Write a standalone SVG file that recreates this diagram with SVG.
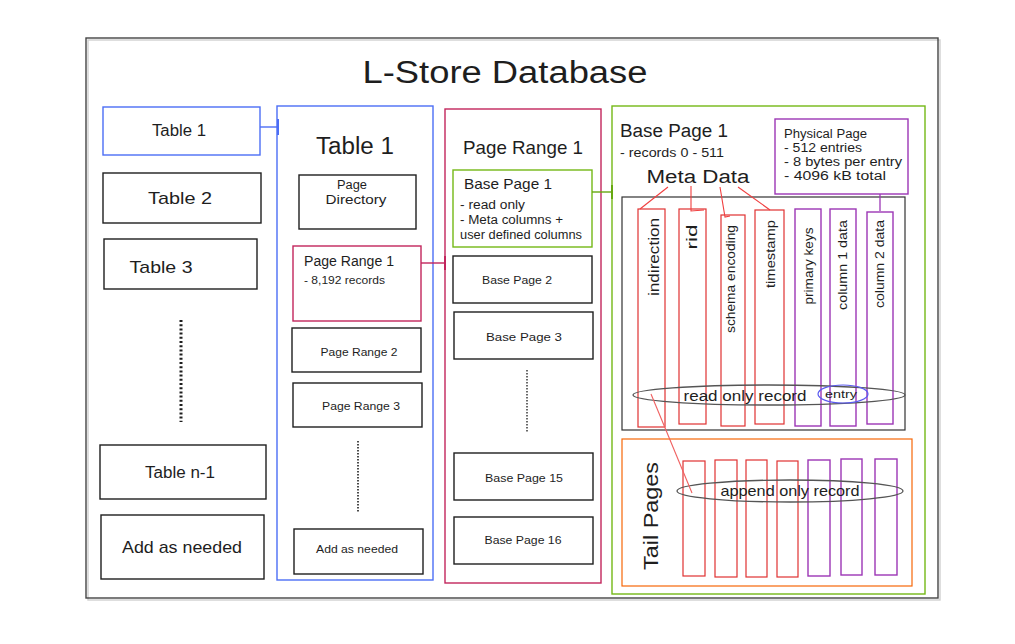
<svg xmlns="http://www.w3.org/2000/svg" width="1015" height="644" viewBox="0 0 1015 644">
<style>
text{font-family:"Liberation Sans",Arial,sans-serif;fill:#1e1e1e}
.box{fill:none;stroke:#1e1e1e;stroke-width:1.4}
.blue{fill:none;stroke:#4c6ef5;stroke-width:1.4}
.pink{fill:none;stroke:#c2255c;stroke-width:1.4}
.green{fill:none;stroke:#74b816;stroke-width:1.4}
.purple{fill:none;stroke:#9c36b5;stroke-width:1.4}
.red{fill:none;stroke:#e03131;stroke-width:1.2}
.orange{fill:none;stroke:#f76707;stroke-width:1.2}
.grey{fill:none;stroke:#555;stroke-width:1.3}
.c{text-anchor:middle}
.rot{text-anchor:middle;dominant-baseline:central}
</style>
<rect width="1015" height="644" fill="#ffffff"/>
<rect x="88" y="40" width="852" height="560" fill="none" stroke="#d0d0d0" stroke-width="1.4"/>
<rect x="86" y="38" width="852" height="560" fill="none" stroke="#444" stroke-width="1.4"/>
<text x="505" y="83" class="c" font-size="31" textLength="285" lengthAdjust="spacingAndGlyphs">L-Store Database</text>

<g id="tables-list">
<g id="table1-item"><rect x="103" y="107" width="157" height="48" class="blue"/><text x="179" y="136" class="c" font-size="16" textLength="54" lengthAdjust="spacingAndGlyphs">Table 1</text></g>
<g id="table2-item"><rect x="103" y="173" width="158" height="50" class="box"/><text x="180" y="204" class="c" font-size="17" textLength="64" lengthAdjust="spacingAndGlyphs">Table 2</text></g>
<g id="table3-item"><rect x="104" y="239" width="153" height="50" class="box"/><text x="161" y="273" class="c" font-size="17" textLength="63" lengthAdjust="spacingAndGlyphs">Table 3</text></g>
<line x1="181" y1="320" x2="181" y2="422" stroke="#1e1e1e" stroke-width="3" stroke-dasharray="2 2.2"/>
<g id="tablen1-item"><rect x="100" y="445" width="166" height="54" class="box"/><text x="180" y="478" class="c" font-size="16" textLength="70" lengthAdjust="spacingAndGlyphs">Table n-1</text></g>
<g id="add-table"><rect x="101" y="515" width="163" height="64" class="box"/><text x="182" y="553" class="c" font-size="17" textLength="120" lengthAdjust="spacingAndGlyphs">Add as needed</text></g>
</g>

<g id="table1-detail">
<rect x="277" y="106" width="156" height="474" class="blue"/>
<text x="355" y="154" class="c" font-size="23" textLength="78" lengthAdjust="spacingAndGlyphs">Table 1</text>
<g id="page-directory"><rect x="299" y="175" width="117" height="54" class="box"/><text x="352" y="189" class="c" font-size="12.5" textLength="30" lengthAdjust="spacingAndGlyphs">Page</text><text x="356" y="204" class="c" font-size="12.5" textLength="61" lengthAdjust="spacingAndGlyphs">Directory</text></g>
<g id="page-range1-item"><rect x="293" y="246" width="128" height="75" class="pink"/><text x="304" y="266" font-size="14" textLength="90" lengthAdjust="spacingAndGlyphs">Page Range 1</text><text x="304" y="284" font-size="10.5" textLength="81" lengthAdjust="spacingAndGlyphs">- 8,192 records</text></g>
<g id="page-range2-item"><rect x="292" y="328" width="129" height="44" class="box"/><text x="359" y="356" class="c" font-size="11" textLength="77" lengthAdjust="spacingAndGlyphs">Page Range 2</text></g>
<g id="page-range3-item"><rect x="293" y="383" width="129" height="44" class="box"/><text x="361" y="410" class="c" font-size="11" textLength="78" lengthAdjust="spacingAndGlyphs">Page Range 3</text></g>
<line x1="358" y1="441" x2="358" y2="512" stroke="#1e1e1e" stroke-width="1.6" stroke-dasharray="1.5 1.5"/>
<g id="add-range"><rect x="294" y="529" width="129" height="45" class="box"/><text x="357" y="553" class="c" font-size="11" textLength="82" lengthAdjust="spacingAndGlyphs">Add as needed</text></g>
</g>

<g id="page-range-detail">
<rect x="445" y="109" width="156" height="474" class="pink"/>
<text x="523" y="154" class="c" font-size="19" textLength="120" lengthAdjust="spacingAndGlyphs">Page Range 1</text>
<g id="base-page1-item"><rect x="453" y="170" width="139" height="77" class="green"/>
<text x="464" y="189" font-size="15" textLength="88" lengthAdjust="spacingAndGlyphs">Base Page 1</text>
<text x="460" y="209" font-size="12" textLength="65" lengthAdjust="spacingAndGlyphs">- read only</text>
<text x="460" y="224" font-size="12" textLength="103" lengthAdjust="spacingAndGlyphs">- Meta columns +</text>
<text x="460" y="239" font-size="12" textLength="122" lengthAdjust="spacingAndGlyphs">user defined columns</text></g>
<g id="base-page2-item"><rect x="453" y="256" width="139" height="47" class="box"/><text x="517" y="284" class="c" font-size="11" textLength="70" lengthAdjust="spacingAndGlyphs">Base Page 2</text></g>
<g id="base-page3-item"><rect x="454" y="312" width="139" height="47" class="box"/><text x="524" y="341" class="c" font-size="11" textLength="76" lengthAdjust="spacingAndGlyphs">Base Page 3</text></g>
<line x1="527" y1="370" x2="527" y2="432" stroke="#444" stroke-width="1.6" stroke-dasharray="1.5 1.5"/>
<g id="base-page15-item"><rect x="454" y="453" width="139" height="47" class="box"/><text x="524" y="482" class="c" font-size="11" textLength="78" lengthAdjust="spacingAndGlyphs">Base Page 15</text></g>
<g id="base-page16-item"><rect x="454" y="517" width="139" height="47" class="box"/><text x="523" y="544" class="c" font-size="11" textLength="77" lengthAdjust="spacingAndGlyphs">Base Page 16</text></g>
</g>

<g id="base-page-detail">
<rect x="612" y="106" width="313" height="488" class="green"/>
<text x="620" y="137" font-size="18" textLength="108" lengthAdjust="spacingAndGlyphs">Base Page 1</text>
<text x="620" y="157" font-size="12" textLength="104" lengthAdjust="spacingAndGlyphs">- records 0 - 511</text>
<text x="698" y="183" class="c" font-size="18" textLength="103" lengthAdjust="spacingAndGlyphs">Meta Data</text>
<g id="physical-page"><rect x="775" y="119" width="133" height="75" class="purple"/>
<text x="784" y="138" font-size="12" textLength="83" lengthAdjust="spacingAndGlyphs">Physical Page</text>
<text x="784" y="152" font-size="12" textLength="78" lengthAdjust="spacingAndGlyphs">- 512 entries</text>
<text x="784" y="166" font-size="12" textLength="118" lengthAdjust="spacingAndGlyphs">- 8 bytes per entry</text>
<text x="784" y="180" font-size="12" textLength="102" lengthAdjust="spacingAndGlyphs">- 4096 kB total</text></g>
<g id="base-columns">
<rect x="622" y="197" width="283" height="233" fill="none" stroke="#333" stroke-width="1.2"/>
<rect x="638" y="209" width="27" height="218" class="red"/>
<rect x="679" y="209" width="27" height="215" class="red"/>
<rect x="721" y="215" width="24" height="211" class="red"/>
<rect x="755" y="210" width="29" height="214" class="red"/>
<rect x="795" y="209" width="26" height="217" class="purple"/>
<rect x="830" y="209" width="26" height="217" class="purple"/>
<rect x="867" y="212" width="26" height="212" class="purple"/>
<text transform="translate(654,257) rotate(-90)" class="rot" font-size="14" textLength="78" lengthAdjust="spacingAndGlyphs">indirection</text>
<text transform="translate(692,237) rotate(-90)" class="rot" font-size="14" textLength="25" lengthAdjust="spacingAndGlyphs">rid</text>
<text transform="translate(731,279) rotate(-90)" class="rot" font-size="12.5" textLength="108" lengthAdjust="spacingAndGlyphs">schema encoding</text>
<text transform="translate(771,254) rotate(-90)" class="rot" font-size="12.5" textLength="68" lengthAdjust="spacingAndGlyphs">timestamp</text>
<text transform="translate(808,266) rotate(-90)" class="rot" font-size="13" textLength="77" lengthAdjust="spacingAndGlyphs">primary keys</text>
<text transform="translate(843,265) rotate(-90)" class="rot" font-size="12.5" textLength="90" lengthAdjust="spacingAndGlyphs">column 1 data</text>
<text transform="translate(880,264) rotate(-90)" class="rot" font-size="12.5" textLength="88" lengthAdjust="spacingAndGlyphs">column 2 data</text>
<ellipse cx="769" cy="395" rx="136" ry="10" class="grey"/>
<text x="745" y="401" class="c" font-size="15.5" textLength="123" lengthAdjust="spacingAndGlyphs">read only record</text>
<ellipse cx="843" cy="394" rx="25" ry="9" fill="none" stroke="#5c5cf0" stroke-width="1.2"/>
<text x="841" y="398" class="c" font-size="11" textLength="32" lengthAdjust="spacingAndGlyphs">entry</text>
</g>
<g id="tail-pages">
<rect x="622" y="439" width="290" height="147" class="orange"/>
<text transform="translate(650,516) rotate(-90)" class="rot" font-size="21" textLength="108" lengthAdjust="spacingAndGlyphs">Tail Pages</text>
<rect x="683" y="461" width="22" height="115" class="red"/>
<rect x="715" y="460" width="22" height="117" class="red"/>
<rect x="746" y="460" width="21" height="117" class="red"/>
<rect x="777" y="461" width="21" height="116" class="red"/>
<rect x="808" y="460" width="22" height="116" class="purple"/>
<rect x="841" y="459" width="21" height="116" class="purple"/>
<rect x="875" y="459" width="22" height="116" class="purple"/>
<ellipse cx="790" cy="491" rx="113" ry="11" class="grey"/>
<text x="790" y="496" class="c" font-size="14.5" textLength="139" lengthAdjust="spacingAndGlyphs">append only record</text>
</g>
</g>

<g id="connectors" fill="none">
<line x1="260" y1="127" x2="278" y2="127" stroke="#4c6ef5" stroke-width="1.4"/>
<line x1="278" y1="119" x2="278" y2="135" stroke="#4c6ef5" stroke-width="2"/>
<line x1="421" y1="263" x2="445" y2="263" stroke="#c2255c" stroke-width="1.4"/>
<line x1="445" y1="256" x2="445" y2="270" stroke="#c2255c" stroke-width="2"/>
<line x1="592" y1="192" x2="612" y2="192" stroke="#66a80f" stroke-width="1.4"/>
<line x1="612" y1="185" x2="612" y2="199" stroke="#66a80f" stroke-width="2"/>
<path d="M668 187 L640 209" stroke="#f03e3e" stroke-width="1.1"/>
<path d="M691 186 L691 211 L704 210" stroke="#f03e3e" stroke-width="1.1"/>
<path d="M720 187 L725 217 L730 216" stroke="#f03e3e" stroke-width="1.1"/>
<path d="M738 187 L770 210" stroke="#f03e3e" stroke-width="1.1"/>
<path d="M880 194 L880 211" stroke="#9c36b5" stroke-width="1.3"/>
<path d="M651 394 L692 493" stroke="#f06060" stroke-width="1.1"/>
</g>
</svg>
